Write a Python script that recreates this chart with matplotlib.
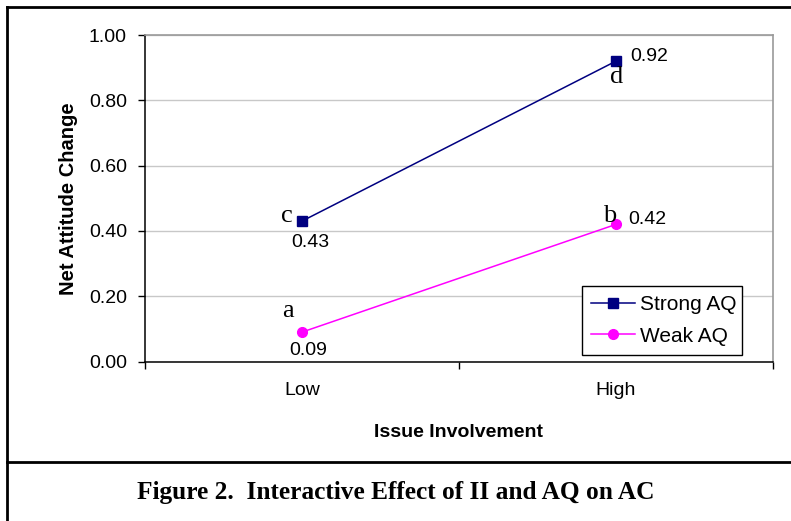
import matplotlib
matplotlib.use("Agg")
import matplotlib.pyplot as plt
from matplotlib.lines import Line2D

categories = ["Low", "High"]
strong_aq = [0.43, 0.92]
weak_aq = [0.09, 0.42]
strong_letters = ["c", "d"]
weak_letters = ["a", "b"]
yticks = [0.0, 0.2, 0.4, 0.6, 0.8, 1.0]

W, H = 791, 521
fig = plt.figure(figsize=(W / 100, H / 100), dpi=100)
sans = "Liberation Sans"
serif = "Liberation Serif"

ax = fig.add_axes([145 / W, 1 - 361.5 / H, (773 - 145) / W, (361.5 - 35) / H])
x = list(range(len(categories)))

ax.plot(x, strong_aq, color="#000080", lw=1.1, marker="s", ms=6.5, label="Strong AQ", zorder=3)
ax.plot(x, weak_aq, color="#FF00FF", lw=1.1, marker="o", ms=7, label="Weak AQ", zorder=3)

ax.set_xlim(-0.5, 1.5)
ax.set_ylim(0, 1.0)
ax.set_yticks(yticks)
ax.set_yticklabels([f"{v:.2f}" for v in yticks], fontfamily=sans, fontsize=14)
ax.set_xticks([-0.5, 0.5, 1.5])
ax.set_xticklabels([])
ax.set_xticks(x, minor=True)
ax.set_xticklabels(categories, minor=True, fontfamily=sans, fontsize=14)
ax.tick_params(axis="x", which="minor", length=0, pad=15)
ax.tick_params(axis="x", which="major", length=5, width=1, direction="out")
ax.tick_params(axis="y", length=5, width=1, direction="out", pad=8)

ax.grid(axis="y", color="#c8c8c8", lw=1)
ax.set_axisbelow(True)
for s in ["top", "right"]:
    ax.spines[s].set_color("#9a9a9a")
    ax.spines[s].set_linewidth(1.2)
for s in ["left", "bottom"]:
    ax.spines[s].set_color("black")
    ax.spines[s].set_linewidth(1.1)

ax.set_ylabel("Net Attitude Change", fontfamily=sans, fontsize=14.5, fontweight="bold", labelpad=8)
ax.set_xlabel("Issue Involvement", fontfamily=sans, fontsize=14, fontweight="bold", labelpad=18)

# value labels (baseline anchored)
val_kw = dict(textcoords="offset pixels", ha="left", va="baseline", fontfamily=sans, fontsize=14)
ax.annotate(f"{strong_aq[0]:.2f}", (x[0], strong_aq[0]), xytext=(-11, -26), **val_kw)
ax.annotate(f"{strong_aq[1]:.2f}", (x[1], strong_aq[1]), xytext=(14, 0), **val_kw)
ax.annotate(f"{weak_aq[0]:.2f}", (x[0], weak_aq[0]), xytext=(-13, -23), **val_kw)
ax.annotate(f"{weak_aq[1]:.2f}", (x[1], weak_aq[1]), xytext=(12, 0), **val_kw)

# letters
let_kw = dict(textcoords="offset pixels", va="baseline", fontfamily=serif, fontsize=19)
ax.annotate(strong_letters[0], (x[0], strong_aq[0]), xytext=(-9, -1), ha="right", **let_kw)
ax.annotate(strong_letters[1], (x[1], strong_aq[1]), xytext=(1, -22), ha="center", **let_kw)
ax.annotate(weak_letters[0], (x[0], weak_aq[0]), xytext=(-14, 15), ha="center", **let_kw)
ax.annotate(weak_letters[1], (x[1], weak_aq[1]), xytext=(-6, 2), ha="center", **let_kw)

leg = ax.legend(loc="lower left", bbox_to_anchor=((582 - 145) / (773 - 145), (361.5 - 355) / (361.5 - 35),
                                                   (742 - 582) / (773 - 145), (355 - 287) / (361.5 - 35)),
                mode="expand", frameon=True, fancybox=False, framealpha=1, edgecolor="black",
                prop={"family": sans, "size": 15}, handlelength=2.1, handletextpad=0.25,
                borderpad=0.45, labelspacing=0.6, borderaxespad=0)
leg.get_frame().set_linewidth(1)

# outer frame lines (figure pixels)
def fx(px):
    return px / W

def fy(py):
    return 1 - py / H

fig.add_artist(Line2D([fx(7), fx(7)], [fy(7), fy(521)], color="black", lw=2))
fig.add_artist(Line2D([fx(7), fx(791)], [fy(7), fy(7)], color="black", lw=2))
fig.add_artist(Line2D([fx(7), fx(791)], [fy(462), fy(462)], color="black", lw=2))

fig.text(fx(396), fy(493), "Figure 2.  Interactive Effect of II and AQ on AC", ha="center", va="center",
         fontfamily=serif, fontsize=18.3, fontweight="bold")

fig.savefig("out.png", dpi=100)
